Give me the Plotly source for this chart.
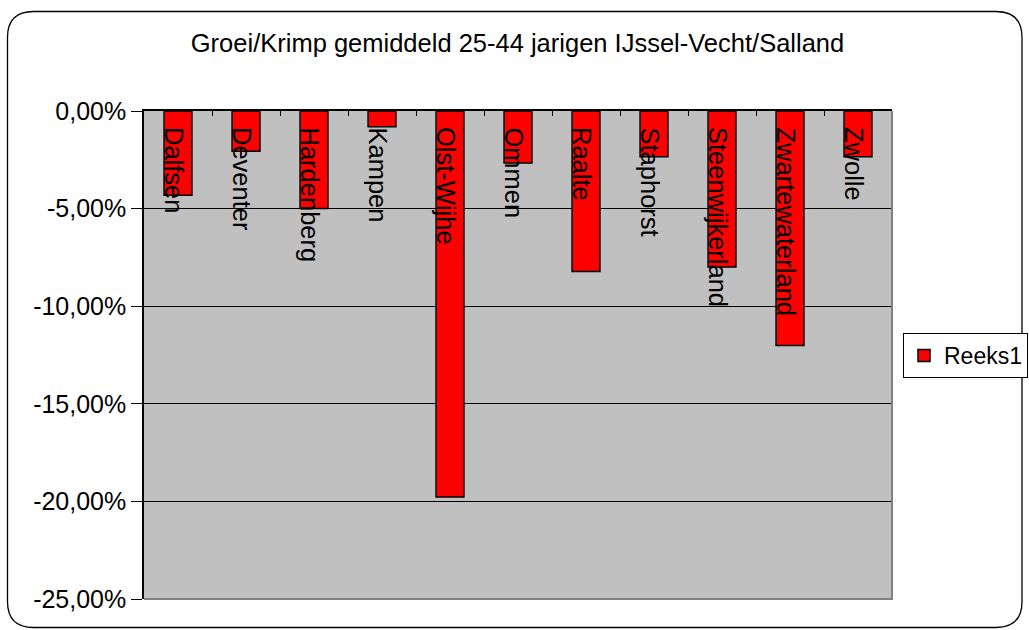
import plotly.graph_objects as go

# Gemeenten en groei/krimp (in %) van het gemiddeld aantal 25-44 jarigen
gemeenten = ["Dalfsen", "Deventer", "Hardenberg", "Kampen", "Olst-Wijhe", "Ommen",
             "Raalte", "Staphorst", "Steenwijkerland", "Zwartewaterland", "Zwolle"]
groei_krimp = [-4.32, -2.06, -5.00, -0.81, -19.78, -2.66,
               -8.22, -2.35, -7.99, -12.01, -2.35]
reeks_naam = "Reeks1"

y_ticks = [0, -5, -10, -15, -20, -25]
y_tick_labels = ["0,00%", "-5,00%", "-10,00%", "-15,00%", "-20,00%", "-25,00%"]

FONT = "Liberation Sans, Arial, sans-serif"
W, H = 1029, 630
L, R, T, B = 144, 1, 111, 31
PLOT_RIGHT = 892                      # right edge of the plot area (px)
pw, ph = W - L - R, H - T - B


def px_x(x):
    return (x - L) / pw


def px_y(y):
    return (H - B - y) / ph


fig = go.Figure()
fig.add_trace(go.Bar(
    x=gemeenten, y=groei_krimp, name=reeks_naam,
    marker=dict(color="#FF0000", line=dict(color="#000000", width=1.5)),
    hoverinfo="x+y",
))

# category names as rotated labels hanging from the zero line
for g in gemeenten:
    fig.add_annotation(
        x=g, y=0, xref="x", yref="y", text=g, textangle=90,
        showarrow=False, xanchor="center", yanchor="top",
        xshift=-4, yshift=-14,
        font=dict(family=FONT, size=25.5, color="#000000"),
    )

# rounded outer frame of the chart
x0, x1, y0, y1, r = 7.5, 1022, 11.5, 627.5, 26
frame = (
    f"M {px_x(x0 + r)},{px_y(y0)} L {px_x(x1 - r)},{px_y(y0)} "
    f"Q {px_x(x1)},{px_y(y0)} {px_x(x1)},{px_y(y0 + r)} "
    f"L {px_x(x1)},{px_y(y1 - r)} "
    f"Q {px_x(x1)},{px_y(y1)} {px_x(x1 - r)},{px_y(y1)} "
    f"L {px_x(x0 + r)},{px_y(y1)} "
    f"Q {px_x(x0)},{px_y(y1)} {px_x(x0)},{px_y(y1 - r)} "
    f"L {px_x(x0)},{px_y(y0 + r)} "
    f"Q {px_x(x0)},{px_y(y0)} {px_x(x0 + r)},{px_y(y0)} Z"
)
fig.add_shape(type="path", path=frame, xref="paper", yref="paper",
              line=dict(color="#000000", width=1.3), layer="above")

# grey right/bottom edge of the plot area
fig.add_shape(type="path", path="M 1,1 L 1,0 L 0,0", xref="x domain", yref="y domain",
              line=dict(color="#808080", width=2), layer="above")

fig.update_layout(
    width=W, height=H, autosize=False,
    margin=dict(l=L, r=R, t=T, b=B, pad=0),
    paper_bgcolor="#FFFFFF", plot_bgcolor="#C0C0C0",
    bargap=0.59,
    font=dict(family=FONT, size=24, color="#000000"),
    title=dict(text="Groei/Krimp gemiddeld 25-44 jarigen IJssel-Vecht/Salland",
               x=517.5 / W, y=1 - 43 / H, xref="container", yref="container",
               xanchor="center", yanchor="middle",
               font=dict(family=FONT, size=25.5, color="#000000")),
    showlegend=True,
    legend=dict(x=px_x(1028), y=px_y(355.5), xanchor="right", yanchor="middle",
                bgcolor="#FFFFFF", bordercolor="#000000", borderwidth=1,
                font=dict(family=FONT, size=23, color="#000000"),
                itemclick=False, itemdoubleclick=False),
    xaxis=dict(domain=[0, px_x(PLOT_RIGHT)], side="top", showticklabels=False,
               ticks="inside", ticklen=5,
               tickson="boundaries", tickcolor="#000000", tickwidth=1,
               showline=True, linecolor="#000000", linewidth=1.5,
               showgrid=False, zeroline=False, fixedrange=True),
    yaxis=dict(range=[-25, 0], tickvals=y_ticks, ticktext=y_tick_labels,
               ticks="outside", ticklen=11, tickcolor="#000000", tickwidth=1,
               showline=True, linecolor="#000000", linewidth=1.5,
               showgrid=True, gridcolor="#000000", gridwidth=1,
               zeroline=False, fixedrange=True,
               tickfont=dict(family=FONT, size=25, color="#000000")),
)

fig.write_html("out.html")
